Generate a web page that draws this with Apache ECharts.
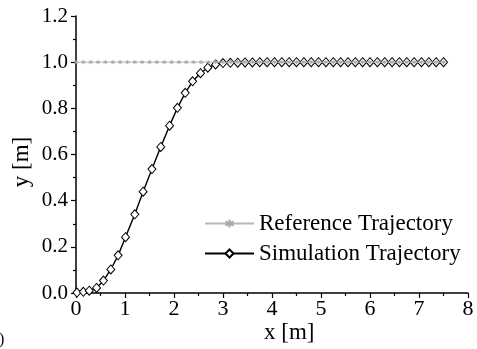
<!DOCTYPE html>
<html>
<head>
<meta charset="utf-8">
<style>html,body{margin:0;padding:0;background:#fff;}#c{width:477px;height:349px;}</style>
<script src="https://cdn.jsdelivr.net/npm/echarts@6/dist/echarts.min.js"></script>
</head>
<body>
<div id="c"></div>
<script>
const xTicks = [0, 1, 2, 3, 4, 5, 6, 7, 8];
const yTicks = [0.0, 0.2, 0.4, 0.6, 0.8, 1.0, 1.2];
const seriesNames = ['Reference Trajectory', 'Simulation Trajectory'];
const refX = [0, 0.15, 0.3, 0.45, 0.6, 0.75, 0.9, 1.05, 1.2, 1.35, 1.5, 1.65, 1.8, 1.95, 2.1, 2.25, 2.4, 2.55, 2.7, 2.85, 3.0, 3.15, 3.3, 3.45, 3.6, 3.75, 3.9, 4.05, 4.2, 4.35, 4.5, 4.65, 4.8, 4.95, 5.1, 5.25, 5.4, 5.55, 5.7, 5.85, 6.0, 6.15, 6.3, 6.45, 6.6, 6.75, 6.9, 7.05, 7.2, 7.35, 7.5];
const refY = [1, 1, 1, 1, 1, 1, 1, 1, 1, 1, 1, 1, 1, 1, 1, 1, 1, 1, 1, 1, 1, 1, 1, 1, 1, 1, 1, 1, 1, 1, 1, 1, 1, 1, 1, 1, 1, 1, 1, 1, 1, 1, 1, 1, 1, 1, 1, 1, 1, 1, 1];
const simX = [0.02, 0.15, 0.27, 0.42, 0.56, 0.71, 0.86, 1.01, 1.2, 1.37, 1.55, 1.73, 1.91, 2.07, 2.23, 2.38, 2.54, 2.69, 2.85, 3.0, 3.15, 3.3, 3.45, 3.6, 3.75, 3.9, 4.05, 4.2, 4.35, 4.5, 4.65, 4.8, 4.95, 5.1, 5.25, 5.4, 5.55, 5.7, 5.85, 6.0, 6.15, 6.3, 6.45, 6.6, 6.75, 6.9, 7.05, 7.2, 7.35, 7.5];
const simY = [0.002, 0.005, 0.01, 0.022, 0.054, 0.102, 0.163, 0.242, 0.341, 0.439, 0.537, 0.633, 0.725, 0.802, 0.867, 0.917, 0.952, 0.976, 0.99, 0.996, 0.997, 0.998, 0.999, 0.999, 1.0, 1.0, 1.0, 1.0, 1.0, 1.0, 1.0, 1.0, 1.0, 1.0, 1.0, 1.0, 1.0, 1.0, 1.0, 1.0, 1.0, 1.0, 1.0, 1.0, 1.0, 1.0, 1.0, 1.0, 1.0, 1.0];

const font = 'Liberation Serif';
const chart = echarts.init(document.getElementById('c'), null, {renderer: 'canvas'});
chart.setOption({
  animation: false,
  backgroundColor: '#fff',
  grid: {left: 76, right: 9, top: 16, bottom: 56, containLabel: false},
  xAxis: {
    type: 'value', min: xTicks[0], max: xTicks[xTicks.length - 1], interval: 1,
    axisLine: {lineStyle: {color: '#000', width: 1.5}},
    axisTick: {length: 5, lineStyle: {color: '#000', width: 1.2}},
    minorTick: {show: true, splitNumber: 2, length: 3, lineStyle: {color: '#000', width: 1.2}},
    splitLine: {show: false},
    axisLabel: {color: '#000', fontFamily: font, fontSize: 22, margin: 5, formatter: v => String(v)}
  },
  yAxis: {
    type: 'value', min: yTicks[0], max: yTicks[yTicks.length - 1], interval: 0.2,
    axisLine: {show: true, lineStyle: {color: '#000', width: 1.5}},
    axisTick: {show: true, length: 5, lineStyle: {color: '#000', width: 1.2}},
    minorTick: {show: true, splitNumber: 2, length: 3, lineStyle: {color: '#000', width: 1.2}},
    splitLine: {show: false},
    axisLabel: {color: '#000', fontFamily: font, fontSize: 21, margin: 8, formatter: v => v.toFixed(1)}
  },
  legend: {
    orient: 'vertical', left: 204, top: 212, padding: 0,
    itemWidth: 49, itemHeight: 10, itemGap: 7,
    textStyle: {color: '#000', fontFamily: font, fontSize: 23, lineHeight: 22, padding: [0, 0, 0, 0]},
    data: seriesNames
  },
  series: [
    {
      name: seriesNames[0], type: 'line', z: 3,
      data: refX.map((x, i) => [x, refY[i]]),
      symbol: 'path://M0,-1L0,1M-0.87,-0.5L0.87,0.5M-0.87,0.5L0.87,-0.5M0,-1',
      symbolSize: 4, showSymbol: true,
      lineStyle: {color: '#b8b8b8', width: 1},
      itemStyle: {color: '#a8a8a8', borderColor: '#a8a8a8', borderWidth: 1}
    },
    {
      name: seriesNames[1], type: 'line', z: 2,
      data: simX.map((x, i) => [x, simY[i]]),
      symbol: 'diamond', symbolSize: [8, 9], showSymbol: true,
      lineStyle: {color: '#000', width: 1.4},
      itemStyle: {color: '#fff', borderColor: '#000', borderWidth: 1}
    }
  ],
  graphic: [
    {type: 'text', left: 264, top: 321, style: {text: 'x [m]', font: '23px "Liberation Serif"', fill: '#000'}},
    {type: 'text', x: 22, y: 162, rotation: Math.PI / 2, style: {text: 'y [m]', font: '23px "Liberation Serif"', fill: '#000', align: 'center', verticalAlign: 'middle'}},
    {type: 'text', left: -1, top: 332, style: {text: ')', font: '16px "Liberation Serif"', fill: '#000'}}
  ]
});
</script>
</body>
</html>
